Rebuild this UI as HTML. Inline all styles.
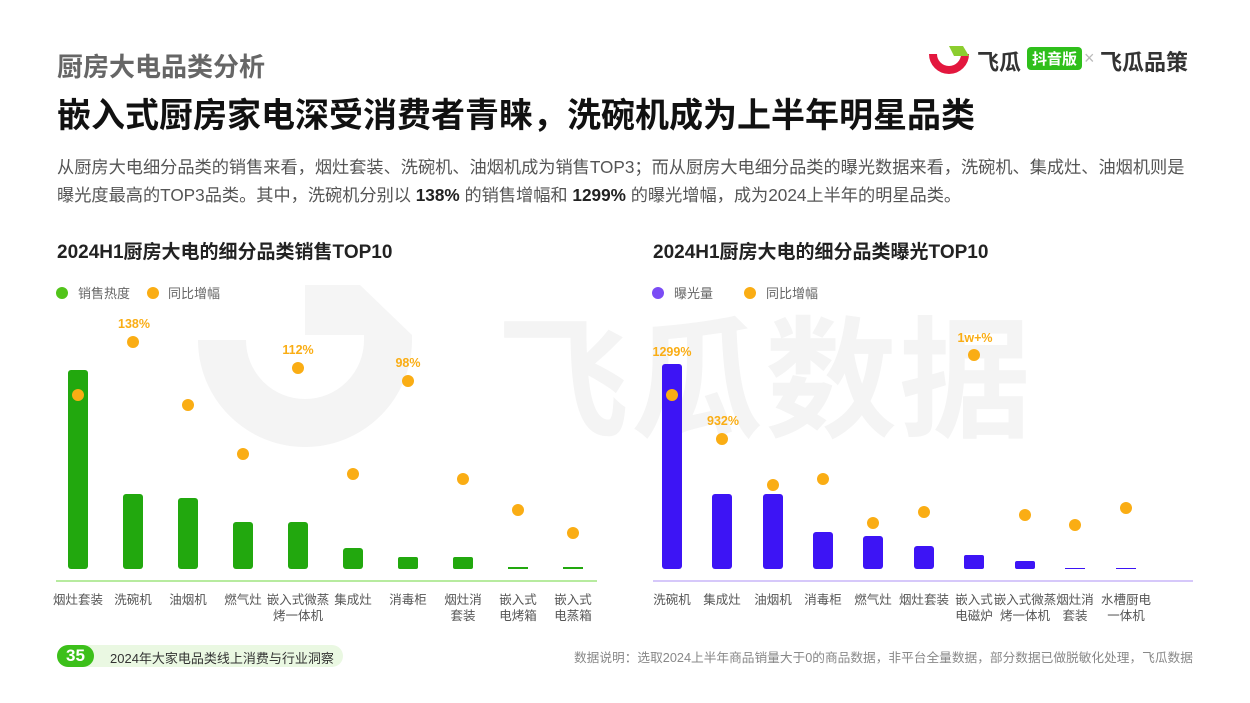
<!DOCTYPE html>
<html><head><meta charset="utf-8"><style>
body{margin:0;width:1250px;height:703px;background:#fff;font-family:"Liberation Sans","Noto Sans CJK SC",sans-serif;position:relative;overflow:hidden}
.a{position:absolute;white-space:nowrap}
</style></head><body>
<div class="a" style="left:497px;top:275px;font-size:132px;font-weight:700;color:#f4f4f4;letter-spacing:2px">飞瓜数据</div>
<svg class="a" style="left:0;top:0" width="1250" height="703">
<path d="M222 340 A 83 83 0 0 0 388 340" stroke="#f4f4f4" stroke-width="48" fill="none"/>
<polygon points="305,285 360,285 412,335 412,340 364,340 364,335 305,335" fill="#f5f5f5"/>
</svg>
<div class="a" style="left:57px;top:47px;font-size:26px;font-weight:700;color:#666">厨房大电品类分析</div>
<div class="a" style="left:57px;top:88px;font-size:34px;font-weight:700;color:#111">嵌入式厨房家电深受消费者青睐，洗碗机成为上半年明星品类</div>
<div class="a" style="left:57px;top:153px;font-size:17.2px;color:#555;line-height:28px">从厨房大电细分品类的销售来看，烟灶套装、洗碗机、油烟机成为销售TOP3；而从厨房大电细分品类的曝光数据来看，洗碗机、集成灶、油烟机则是<br>曝光度最高的TOP3品类。其中，洗碗机分别以 <b style="color:#222">138%</b> 的销售增幅和 <b style="color:#222">1299%</b> 的曝光增幅，成为2024上半年的明星品类。</div>
<svg class="a" style="left:928px;top:44px" width="45" height="32"><path d="M5 10 A15 15 0 0 0 37 10" stroke="#e3173e" stroke-width="8" fill="none"/><polygon points="21,2 35,2 41,12 26,12" fill="#8ccd2f"/></svg>
<div class="a" style="left:977px;top:45px;font-size:22px;font-weight:700;color:#333">飞瓜</div>
<div class="a" style="left:1027px;top:47px;font-size:15px;font-weight:700;color:#fff;background:#2fbf1b;border-radius:4px;padding:1px 5px">抖音版</div>
<div class="a" style="left:1084px;top:48px;font-size:18px;color:#bbb">×</div>
<div class="a" style="left:1100px;top:45px;font-size:22px;font-weight:700;color:#333">飞瓜品策</div>
<div class="a" style="left:57px;top:237px;font-size:19px;font-weight:700;color:#222">2024H1厨房大电的细分品类销售TOP10</div>
<div class="a" style="left:653px;top:237px;font-size:19px;font-weight:700;color:#222">2024H1厨房大电的细分品类曝光TOP10</div>
<svg class="a" style="left:0;top:0" width="1250" height="703" font-family="Liberation Sans, Noto Sans CJK SC, sans-serif">
<circle cx="62" cy="293" r="6" fill="#52c41a"/><text x="78" y="298" font-size="13" fill="#666">销售热度</text>
<circle cx="153" cy="293" r="6" fill="#faad14"/><text x="168" y="298" font-size="13" fill="#666">同比增幅</text>
<circle cx="658" cy="293" r="6" fill="#7b4cf5"/><text x="674" y="298" font-size="13" fill="#666">曝光量</text>
<circle cx="750" cy="293" r="6" fill="#faad14"/><text x="766" y="298" font-size="13" fill="#666">同比增幅</text>
<line x1="56" y1="581" x2="597" y2="581" stroke="#b7eb9f" stroke-width="2"/>
<line x1="653" y1="581" x2="1193" y2="581" stroke="#d6c8fa" stroke-width="2"/>
<g fill="#22a80e">
<rect x="68" y="370" width="20" height="199" rx="3"/><rect x="123" y="494" width="20" height="75" rx="3"/><rect x="178" y="498" width="20" height="71" rx="3"/><rect x="233" y="522" width="20" height="47" rx="3"/><rect x="288" y="522" width="20" height="47" rx="3"/><rect x="343" y="548" width="20" height="21" rx="3"/><rect x="398" y="557" width="20" height="12" rx="2"/><rect x="453" y="557" width="20" height="12" rx="2"/><rect x="508" y="567" width="20" height="2"/><rect x="563" y="567" width="20" height="2"/>
</g>
<g fill="#3d14f5">
<rect x="662" y="364" width="20" height="205" rx="3"/><rect x="712" y="494" width="20" height="75" rx="3"/><rect x="763" y="494" width="20" height="75" rx="3"/><rect x="813" y="532" width="20" height="37" rx="3"/><rect x="863" y="536" width="20" height="33" rx="3"/><rect x="914" y="546" width="20" height="23" rx="3"/><rect x="964" y="555" width="20" height="14" rx="2"/><rect x="1015" y="561" width="20" height="8" rx="2"/><rect x="1065" y="568" width="20" height="1"/><rect x="1116" y="568" width="20" height="1"/>
</g>
<g fill="#faad14">
<circle cx="78" cy="395" r="6"/><circle cx="133" cy="342" r="6"/><circle cx="188" cy="405" r="6"/><circle cx="243" cy="454" r="6"/><circle cx="298" cy="368" r="6"/><circle cx="353" cy="474" r="6"/><circle cx="408" cy="381" r="6"/><circle cx="463" cy="479" r="6"/><circle cx="518" cy="510" r="6"/><circle cx="573" cy="533" r="6"/>
<circle cx="672" cy="395" r="6"/><circle cx="722" cy="439" r="6"/><circle cx="773" cy="485" r="6"/><circle cx="823" cy="479" r="6"/><circle cx="873" cy="523" r="6"/><circle cx="924" cy="512" r="6"/><circle cx="974" cy="355" r="6"/><circle cx="1025" cy="515" r="6"/><circle cx="1075" cy="525" r="6"/><circle cx="1126" cy="508" r="6"/>
</g>
<g fill="#faad14" font-size="12.5" font-weight="700" text-anchor="middle">
<text x="134" y="328">138%</text><text x="298" y="354">112%</text><text x="408" y="367">98%</text>
<text x="672" y="356">1299%</text><text x="723" y="425">932%</text><text x="975" y="342">1w+%</text>
</g>
<g fill="#555" font-size="12.5" text-anchor="middle">
<text x="78" y="604">烟灶套装</text><text x="133" y="604">洗碗机</text><text x="188" y="604">油烟机</text><text x="243" y="604">燃气灶</text><text x="298" y="604">嵌入式微蒸</text><text x="298" y="620">烤一体机</text><text x="353" y="604">集成灶</text><text x="408" y="604">消毒柜</text><text x="463" y="604">烟灶消</text><text x="463" y="620">套装</text><text x="518" y="604">嵌入式</text><text x="518" y="620">电烤箱</text><text x="573" y="604">嵌入式</text><text x="573" y="620">电蒸箱</text>
<text x="672" y="604">洗碗机</text><text x="722" y="604">集成灶</text><text x="773" y="604">油烟机</text><text x="823" y="604">消毒柜</text><text x="873" y="604">燃气灶</text><text x="924" y="604">烟灶套装</text><text x="974" y="604">嵌入式</text><text x="974" y="620">电磁炉</text><text x="1025" y="604">嵌入式微蒸</text><text x="1025" y="620">烤一体机</text><text x="1075" y="604">烟灶消</text><text x="1075" y="620">套装</text><text x="1126" y="604">水槽厨电</text><text x="1126" y="620">一体机</text>
</g>
</svg>
<div class="a" style="left:57px;top:645px;width:286px;height:22px;background:#eaf8e2;border-radius:11px"></div>
<div class="a" style="left:57px;top:645px;width:37px;height:22px;background:#3cc01a;border-radius:11px;color:#fff;font-weight:700;font-size:17px;text-align:center;line-height:22px">35</div>
<div class="a" style="left:110px;top:648px;font-size:13px;color:#333">2024年大家电品类线上消费与行业洞察</div>
<div class="a" style="left:574px;top:647px;font-size:12.7px;color:#888">数据说明：选取2024上半年商品销量大于0的商品数据，非平台全量数据，部分数据已做脱敏化处理，飞瓜数据</div>
</body></html>
